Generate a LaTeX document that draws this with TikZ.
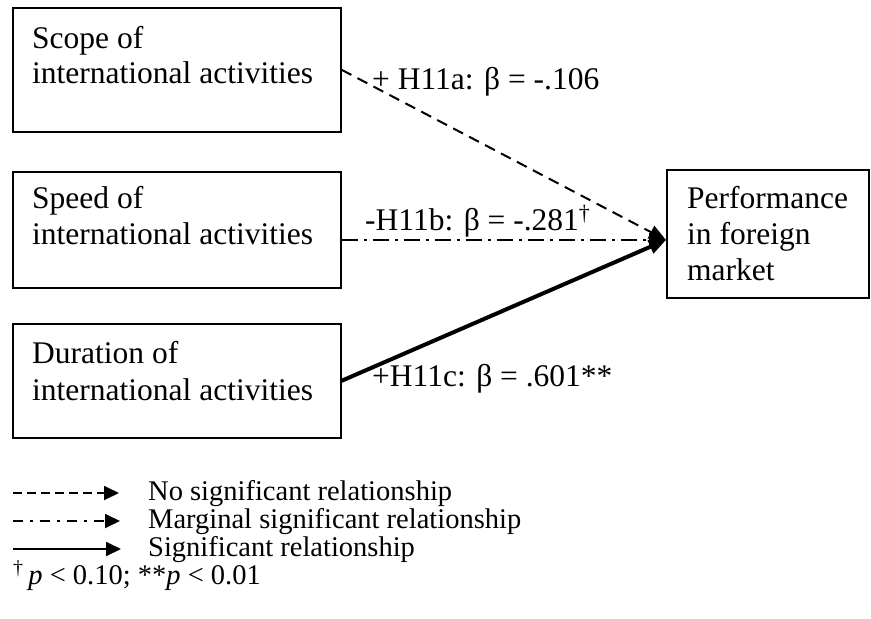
\documentclass[tikz,border=0pt]{standalone}
\usepackage{fontspec}
\setmainfont{Liberation Serif}
\usetikzlibrary{arrows.meta}
\begin{document}
\begin{tikzpicture}[x=1pt,y=-1pt,
  box/.style={draw, line width=1.6pt, inner sep=0pt, anchor=north west},
  txt/.style={inner sep=0pt, anchor=base west, font=\fontsize{31.5}{35}\selectfont},
  legtxt/.style={inner sep=0pt, anchor=base west, font=\fontsize{28.5}{30}\selectfont},
  bigtip/.style={-{Triangle[length=17pt,width=14pt]}},
  smalltip/.style={-{Triangle[length=15pt,width=14pt]}},
  dashedl/.style={line width=2pt, dash pattern=on 11pt off 7pt},
  dashdotl/.style={line width=2pt, dash pattern=on 16pt off 6pt on 3pt off 6pt},
  solidl/.style={line width=4pt},
  legdashed/.style={line width=1.8pt, dash pattern=on 9pt off 5pt},
  legdashdot/.style={line width=1.8pt, dash pattern=on 10pt off 7pt on 3pt off 7pt},
  legsolid/.style={line width=1.8pt}]
\useasboundingbox (0,0) rectangle (871,619);
\fill[white] (0,0) rectangle (871,619);

% boxes
\node[box, minimum width=328pt, minimum height=124pt] (scope) at (12,7) {};
\node[box, minimum width=328pt, minimum height=116pt] (speed) at (12,171) {};
\node[box, minimum width=328pt, minimum height=114pt] (dur) at (12,323) {};
\node[box, minimum width=202pt, minimum height=128pt] (perf) at (666,169) {};

% box texts
\node[txt] (scope1) at (32,48) {Scope of};
\node[txt] (scope2) at (32,83) {international activities};
\node[txt] (speed1) at (32,208) {Speed of};
\node[txt] (speed2) at (32,244) {international activities};
\node[txt] (dur1) at (32,363) {Duration of};
\node[txt] (dur2) at (32,400) {international activities};
\node[txt] (perf1) at (687,208) {Performance};
\node[txt] (perf2) at (687,244) {in foreign};
\node[txt] (perf3) at (687,280) {market};

% connectors
\coordinate (tip) at (666,240);
\coordinate (b2) at (speed.east |- tip);
\draw[dashedl, bigtip] (scope.east) -- (tip);
\draw[dashdotl, bigtip] (b2) -- (tip);
\draw[solidl, bigtip] (dur.east) -- (tip);

% labels
\node[txt] (la) at (372,89) {+ H11a: β = -.106};
\node[txt] (lb) at (365,230) {-H11b: β = -.281\textsuperscript{†}};
\node[txt] (lc) at (372,386) {+H11c: β = .601**};

% legend
\coordinate (l1a) at (13,493); \coordinate (l1b) at (119,493);
\coordinate (l2a) at (13,521); \coordinate (l2b) at (120,521);
\coordinate (l3a) at (13,549); \coordinate (l3b) at (121,549);
\draw[legdashed, smalltip] (l1a) -- (l1b);
\draw[legdashdot, smalltip] (l2a) -- (l2b);
\draw[legsolid, smalltip] (l3a) -- (l3b);
\node[legtxt] (t1) at (148,500) {No significant relationship};
\node[legtxt] (t2) at (148,528) {Marginal significant relationship};
\node[legtxt] (t3) at (148,556) {Significant relationship};
\node[legtxt] (t4) at (13,584) {\textsuperscript{†}\,\textit{p} < 0.10; **\textit{p} < 0.01};
\end{tikzpicture}
\end{document}
